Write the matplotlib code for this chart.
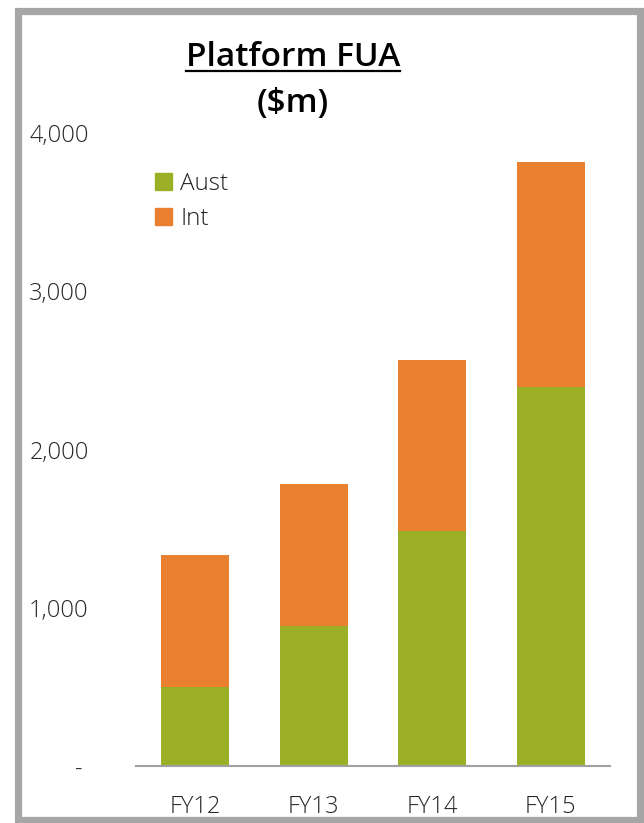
import matplotlib.pyplot as plt
from matplotlib.patches import Patch, Rectangle
from matplotlib.lines import Line2D

years = ["FY12", "FY13", "FY14", "FY15"]
aust = [501, 884, 1483, 2396]
intl = [832, 897, 1082, 1421]
y_ticks = [0, 1000, 2000, 3000, 4000]
y_labels = ["- ", "1,000", "2,000", "3,000", "4,000"]

green = "#9CB027"
orange = "#E8802F"
text_col = "#262626"

plt.rcParams['font.family'] = ['Open Sans', 'DejaVu Sans']

W, H = 644, 823
fig = plt.figure(figsize=(W / 100, H / 100), dpi=100)
ax = fig.add_axes([136 / W, 1 - 766 / H, (610 - 136) / W, (766 - 133) / H])

x = range(len(years))
ax.bar(x, aust, width=0.57, color=green, label="Aust", zorder=2)
ax.bar(x, intl, width=0.57, bottom=aust, color=orange, label="Int", zorder=2)

ax.set_xlim(-0.5, 3.5)
ax.set_ylim(0, 4000)
ax.set_yticks(y_ticks)
ax.set_yticklabels(y_labels)
ax.set_xticks(list(x))
ax.set_xticklabels(years)
ax.tick_params(axis='both', length=0, labelsize=17, colors=text_col)
ax.tick_params(axis='y', pad=34)
ax.tick_params(axis='x', pad=21)
for lab in ax.get_xticklabels() + ax.get_yticklabels():
    lab.set_fontweight("light")
for s in ["top", "right", "left"]:
    ax.spines[s].set_visible(False)
ax.spines["bottom"].set_color("#a0a0a0")
ax.spines["bottom"].set_linewidth(1.5)

handles = [Patch(color=green, label="Aust"), Patch(color=orange, label="Int")]
leg = fig.legend(handles=handles, loc="upper left",
                 bbox_to_anchor=(133 / W, 1 - 150 / H), frameon=False,
                 handlelength=0.7, handleheight=0.7,
                 handletextpad=0.35, labelspacing=0.45,
                 prop={"weight": "light", "size": 17.5})
for t in leg.get_texts():
    t.set_color(text_col)

# title with underline
title = fig.text(293 / W, 1 - 57 / H, "Platform FUA", ha="center", va="center",
                 fontsize=24, fontweight="semibold", color="black")
fig.text(293 / W, 1 - 104 / H, "($m)", ha="center", va="center",
         fontsize=24, fontweight="semibold", color="black")
fig.canvas.draw()
bb = title.get_window_extent().transformed(fig.transFigure.inverted())
fig.add_artist(Line2D([bb.x0, bb.x1], [1 - 71 / H, 1 - 71 / H],
                      color="black", lw=1.6))

# gray frame
fig.add_artist(Rectangle((18 / W, 1 - 820 / H), (640 - 18) / W, (820 - 10.5) / H,
                         fill=False, edgecolor="#a6a6a6", lw=5.2,
                         transform=fig.transFigure))

fig.savefig("out.png", dpi=100)
